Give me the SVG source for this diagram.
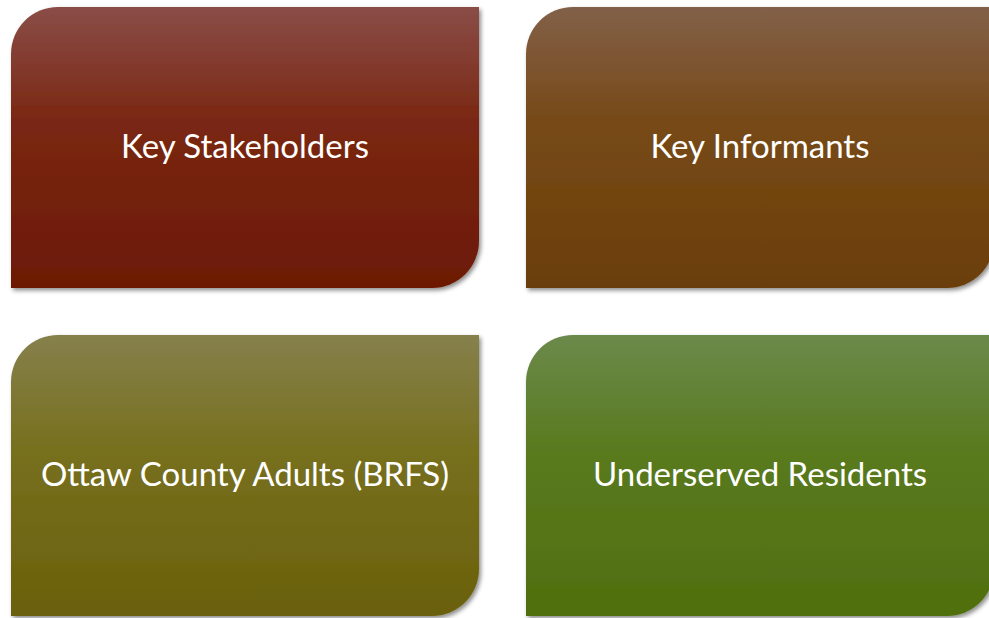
<svg xmlns="http://www.w3.org/2000/svg" width="989" height="618" viewBox="0 0 989 618">
<defs>
<filter id="sh" x="-5%" y="-5%" width="115%" height="115%">
<feDropShadow dx="2" dy="2.5" stdDeviation="2.2" flood-color="#000" flood-opacity="0.45"/>
</filter>
<linearGradient id="g1" x1="0" y1="0" x2="0" y2="1">
<stop offset="0" stop-color="#8a4d47"/><stop offset="0.4" stop-color="#7a2813"/><stop offset="1" stop-color="#6c1905"/>
</linearGradient>
<linearGradient id="g2" x1="0" y1="0" x2="0" y2="1">
<stop offset="0" stop-color="#826048"/><stop offset="0.4" stop-color="#774a18"/><stop offset="1" stop-color="#6b3e07"/>
</linearGradient>
<linearGradient id="g3" x1="0" y1="0" x2="0" y2="1">
<stop offset="0" stop-color="#86804c"/><stop offset="0.4" stop-color="#77701f"/><stop offset="1" stop-color="#6a600b"/>
</linearGradient>
<linearGradient id="g4" x1="0" y1="0" x2="0" y2="1">
<stop offset="0" stop-color="#6b8a4b"/><stop offset="0.4" stop-color="#5a7a20"/><stop offset="1" stop-color="#4f6f0e"/>
</linearGradient>
<path id="box" d="M47 0 H468 V234 A47 47 0 0 1 421 281 H0 V47 A47 47 0 0 1 47 0 Z"/>
</defs>
<style>
text{font-family:Lato,"Open Sans","Liberation Sans",sans-serif;font-size:33px;fill:#fff;text-anchor:middle}
</style>
<g id="n1"><use href="#box" x="11" y="7" fill="url(#g1)" filter="url(#sh)"/><text x="245" y="158">Key Stakeholders</text></g>
<g id="n2"><use href="#box" x="526" y="7" fill="url(#g2)" filter="url(#sh)"/><text x="760" y="158">Key Informants</text></g>
<g id="n3"><use href="#box" x="11" y="335" fill="url(#g3)" filter="url(#sh)"/><text x="245" y="486">Ottaw County Adults (BRFS)</text></g>
<g id="n4"><use href="#box" x="526" y="335" fill="url(#g4)" filter="url(#sh)"/><text x="760" y="486">Underserved Residents</text></g>
</svg>
